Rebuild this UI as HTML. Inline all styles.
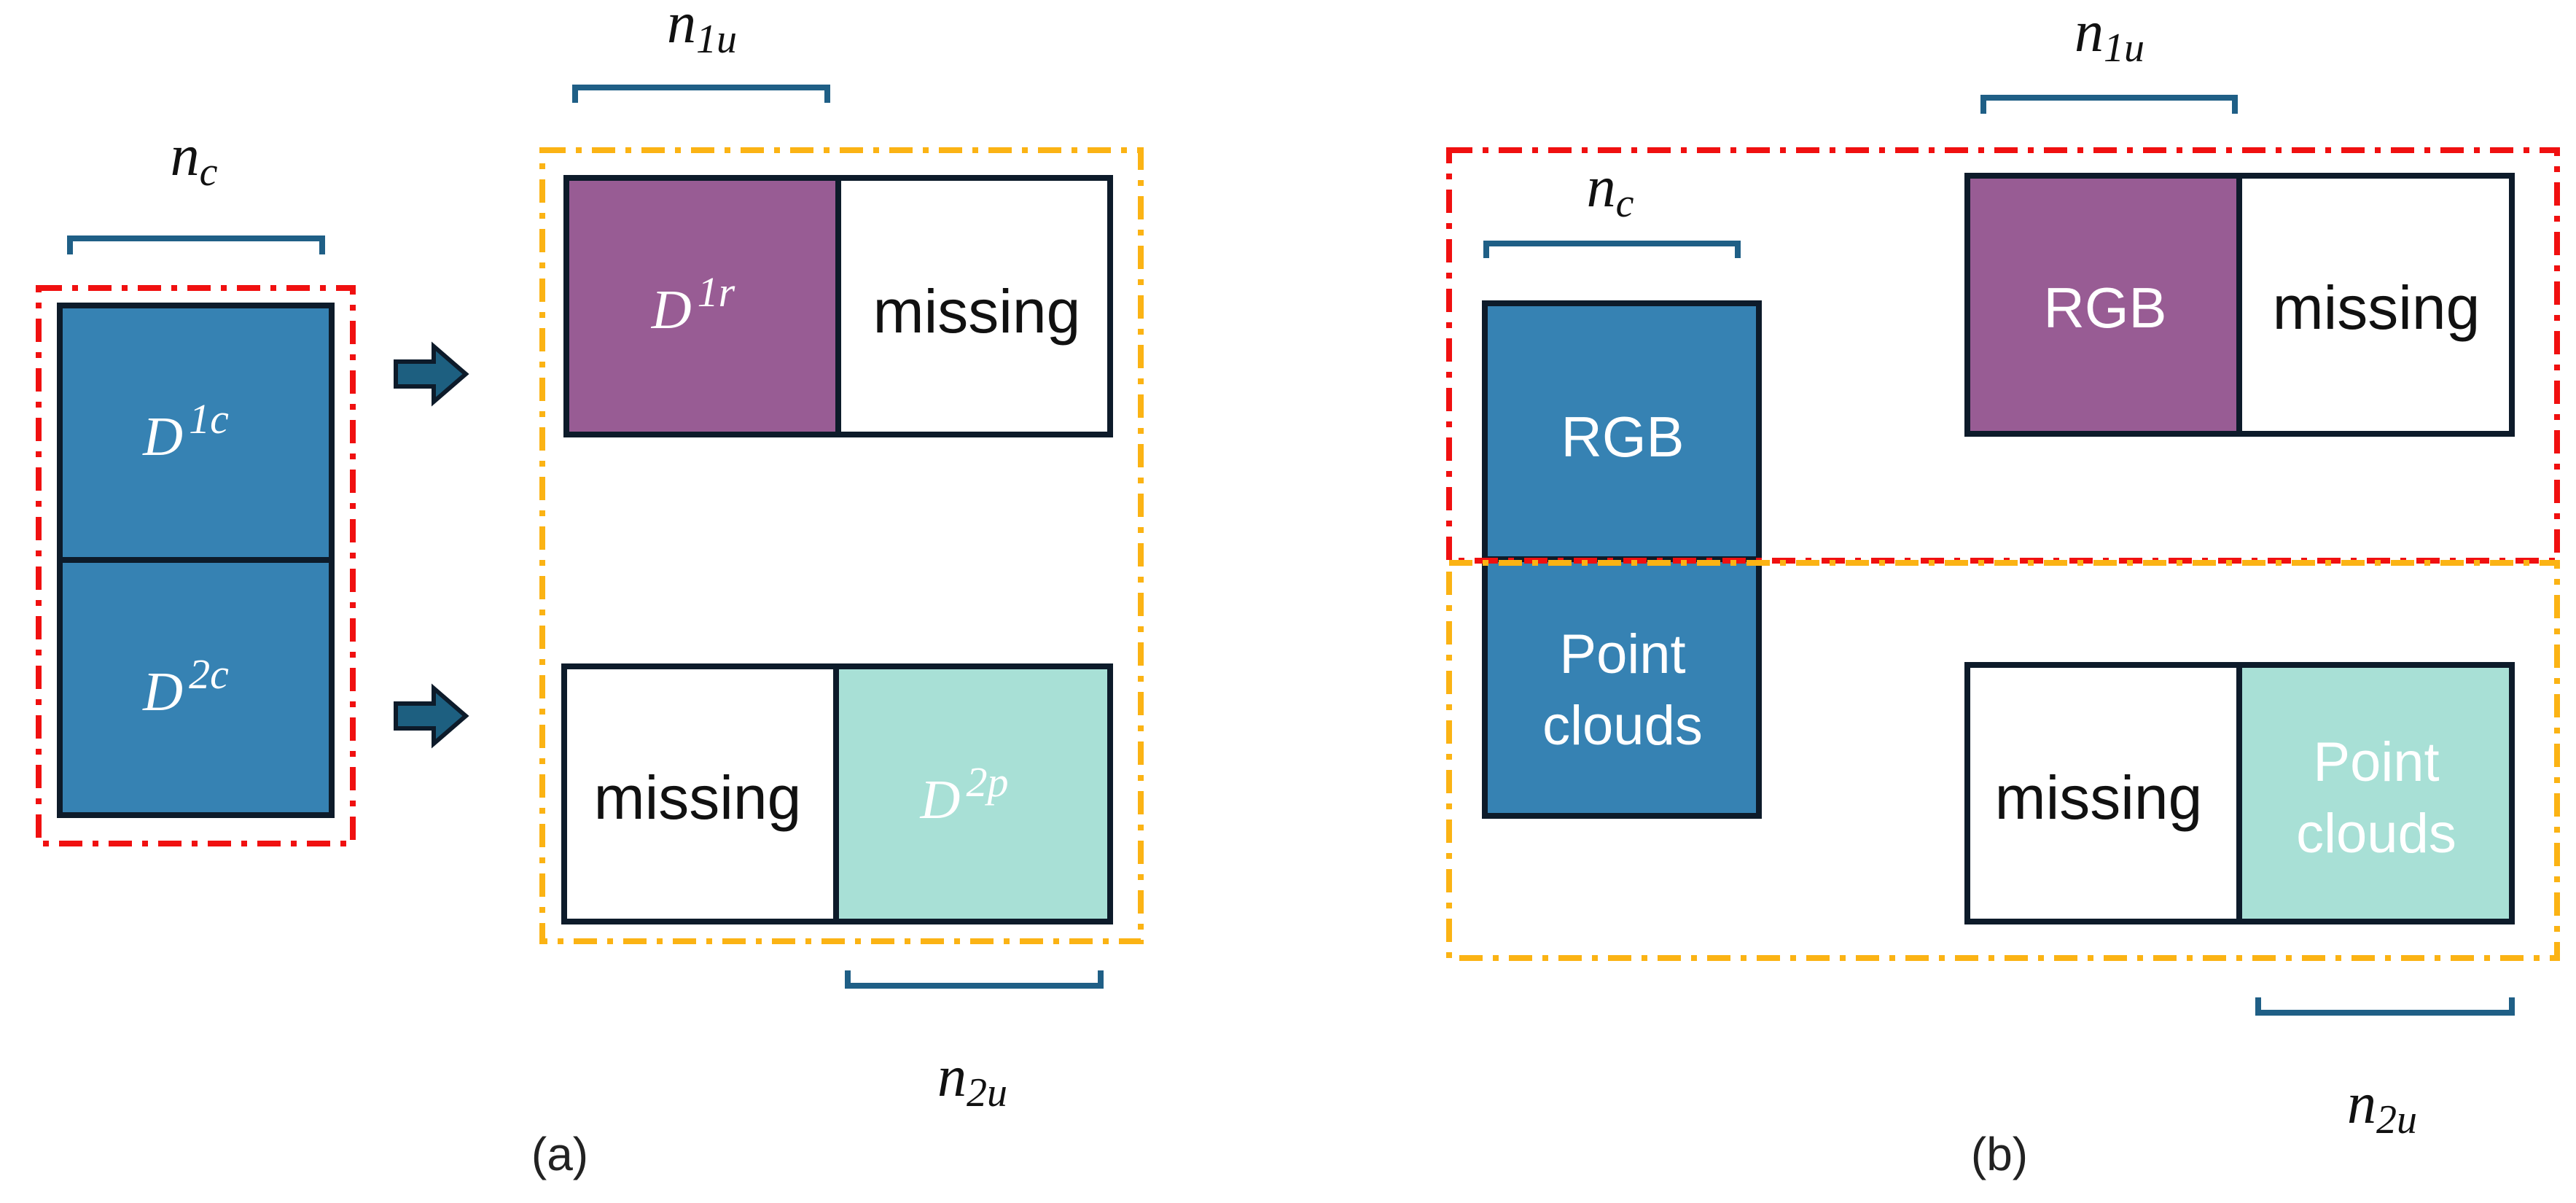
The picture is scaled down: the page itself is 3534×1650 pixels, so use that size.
<!DOCTYPE html>
<html><head><meta charset="utf-8"><style>
html,body{margin:0;padding:0;background:#fff;}
svg{display:block;}
.m{font-family:"Liberation Serif",serif;font-style:italic;fill:#111;}
.w{font-family:"Liberation Sans",sans-serif;font-weight:normal;}
</style></head><body>
<svg width="3534" height="1650" viewBox="0 0 3534 1650" xmlns="http://www.w3.org/2000/svg">
<defs>
<g id="arrow"><polygon points="0,-17 52,-17 52,-38 96,0 52,38 52,17 0,17" fill="#1d5f80" stroke="#0d1b2a" stroke-width="6" stroke-linejoin="miter"/></g>
</defs>
<g fill="none" stroke="#1f5f86" stroke-width="8">
<path d="M96,349 V327 H442 V349"/>
<path d="M789,141 V120 H1135 V141"/>
<path d="M1163,1331 V1352 H1510 V1331"/>
<path d="M2039,354 V334 H2384 V354"/>
<path d="M2721,156 V134 H3066 V156"/>
<path d="M3098,1368 V1389 H3446 V1368"/>
</g>
<!-- (a) -->
<rect x="82" y="419" width="373" height="699" fill="#3682b3" stroke="#0d1b2a" stroke-width="8"/>
<line x1="82" y1="768" x2="455" y2="768" stroke="#0d1b2a" stroke-width="8"/>
<rect x="53" y="395" width="431" height="762" fill="none" stroke="#f01010" stroke-width="8" stroke-dasharray="32 14 8 14"/>
<use href="#arrow" x="543" y="513"/>
<use href="#arrow" x="543" y="982"/>
<rect x="777" y="244" width="373" height="352" fill="#985c94"/>
<rect x="777" y="244" width="746" height="352" fill="none" stroke="#0d1b2a" stroke-width="8"/>
<line x1="1150" y1="244" x2="1150" y2="596" stroke="#0d1b2a" stroke-width="8"/>
<rect x="1147" y="914" width="376" height="350" fill="#a8e0d6"/>
<rect x="774" y="914" width="749" height="350" fill="none" stroke="#0d1b2a" stroke-width="8"/>
<line x1="1147" y1="914" x2="1147" y2="1264" stroke="#0d1b2a" stroke-width="8"/>
<rect x="744" y="206" width="821" height="1085" fill="none" stroke="#fbb314" stroke-width="8" stroke-dasharray="32 14 8 14"/>
<g class="m" font-size="80">
<text x="266" y="240" text-anchor="middle">n<tspan font-size="56" dy="14">c</tspan></text>
<text x="963" y="58" text-anchor="middle">n<tspan font-size="56" dy="14">1u</tspan></text>
<text x="1334" y="1503" text-anchor="middle">n<tspan font-size="56" dy="14">2u</tspan></text>
<text x="2209" y="283" text-anchor="middle">n<tspan font-size="56" dy="14">c</tspan></text>
<text x="2894" y="70" text-anchor="middle">n<tspan font-size="56" dy="14">1u</tspan></text>
<text x="3268" y="1540" text-anchor="middle">n<tspan font-size="56" dy="14">2u</tspan></text>
</g>
<g class="m" font-size="76">
<text x="255" y="624" text-anchor="middle" style="fill:#fff">D<tspan font-size="58" dx="8" dy="-30">1c</tspan></text>
<text x="255" y="974" text-anchor="middle" style="fill:#fff">D<tspan font-size="58" dx="8" dy="-30">2c</tspan></text>
<text x="951" y="450" text-anchor="middle" style="fill:#fff">D<tspan font-size="58" dx="8" dy="-30">1r</tspan></text>
<text x="1323" y="1122" text-anchor="middle" style="fill:#fff">D<tspan font-size="58" dx="8" dy="-30">2p</tspan></text>
</g>
<g class="w" font-size="84" text-anchor="middle">
<text x="1340" y="456" fill="#111">missing</text>
<text x="957" y="1123" fill="#111">missing</text>
<text x="768" y="1605" fill="#222" font-size="64">(a)</text>
<text x="2743" y="1605" fill="#222" font-size="64">(b)</text>
</g>
<!-- (b) -->
<rect x="2037" y="416" width="376" height="703" fill="#3682b3" stroke="#0d1b2a" stroke-width="8"/>
<line x1="2037" y1="767" x2="2413" y2="767" stroke="#0d1b2a" stroke-width="8"/>
<rect x="2699" y="241" width="373" height="354" fill="#985c94"/>
<rect x="2699" y="241" width="747" height="354" fill="none" stroke="#0d1b2a" stroke-width="8"/>
<line x1="3072" y1="241" x2="3072" y2="595" stroke="#0d1b2a" stroke-width="8"/>
<rect x="3072" y="912" width="374" height="352" fill="#a8e0d6"/>
<rect x="2699" y="912" width="747" height="352" fill="none" stroke="#0d1b2a" stroke-width="8"/>
<line x1="3072" y1="912" x2="3072" y2="1264" stroke="#0d1b2a" stroke-width="8"/>
<rect x="1988" y="206" width="1520" height="563" fill="none" stroke="#f01010" stroke-width="8" stroke-dasharray="32 14 8 14"/>
<rect x="1988" y="772" width="1520" height="542" fill="none" stroke="#fbb314" stroke-width="8" stroke-dasharray="32 14 8 14"/>
<g class="w" font-size="76" text-anchor="middle">
<text x="2226" y="626" fill="#fff" font-size="78">RGB</text>
<text x="2226" y="923" fill="#fff">Point</text>
<text x="2226" y="1021" fill="#fff">clouds</text>
<text x="2888" y="449" fill="#fff" font-size="78">RGB</text>
<text x="3260" y="451" fill="#111" font-size="84">missing</text>
<text x="2879" y="1123" fill="#111" font-size="84">missing</text>
<text x="3260" y="1071" fill="#fff">Point</text>
<text x="3260" y="1169" fill="#fff">clouds</text>
</g>
</svg>
</body></html>
